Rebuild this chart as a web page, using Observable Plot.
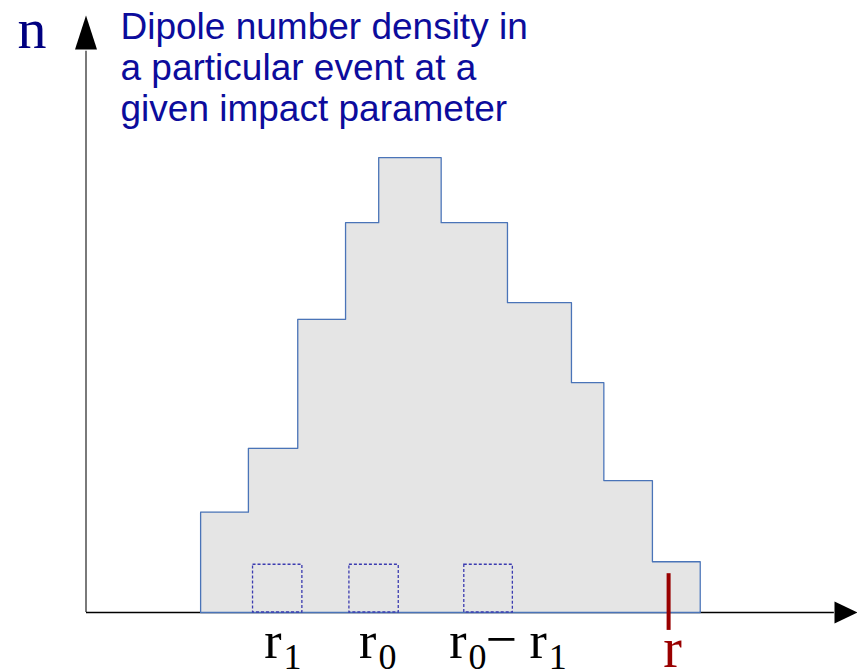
<!DOCTYPE html>
<html>
<head>
<meta charset="utf-8">
<script src="https://cdn.jsdelivr.net/npm/d3@7"></script>
<script src="https://cdn.jsdelivr.net/npm/@observablehq/plot@0.6"></script>
<style>
  html, body { margin: 0; padding: 0; background: #fff; }
  #chart svg { display: block; }
</style>
</head>
<body>
<div id="chart"></div>
<script>
// Histogram of dipole number density versus dipole size r (arbitrary units)
const binEdges = [14.8, 21.0, 27.4, 33.6, 37.9, 46.0, 54.6, 62.9, 67.1, 73.4, 79.6];
const binCounts = [16.8, 27.5, 49.1, 65.3, 76.2, 65.3, 51.9, 38.5, 22.1, 8.5];

// Dashed sampling cells at r1, r0 and r0 - r1
const cellLeft = [21.6, 34.1, 49.0];
const cellRight = [28.0, 40.5, 55.3];
const cellHeight = 8.0;

// Labels under the r axis: base letter and subscript, split point in r units
const labelBase = ["r", "r", "r", "r"];
const labelSub = ["1", "0", "0", "1"];
const labelAt = [25.3, 37.6, 49.3, 59.7];
const minusAt = 53.8;

// Marked dipole size r on the axis
const rMarkAt = 75.5;
const rMarkLow = -3.0;
const rMarkHigh = 6.5;

// Axis extents
const rMax = 100;
const nMax = 100;

const titleText = "Dipole number density in\na particular event at a\ngiven impact parameter";

// Outline of the step histogram (closed along the baseline)
const outline = [{x: binEdges[0], y: 0}];
binCounts.forEach((c, i) => outline.push({x: binEdges[i], y: c}));
outline.push({x: binEdges[binEdges.length - 1], y: 0});
outline.push({x: binEdges[0], y: 0});

const fillPts = [];
binCounts.forEach((c, i) => fillPts.push({x: binEdges[i], y: c}));
fillPts.push({x: binEdges[binEdges.length - 1], y: binCounts[binCounts.length - 1]});

const cells = cellLeft.map((l, i) => ({x1: l, x2: cellRight[i]}));
const labels = labelAt.map((x, i) => ({x, base: labelBase[i], sub: labelSub[i]}));

// Solid arrowheads for the axes
const arrowUp = {draw(ctx) { ctx.moveTo(0, 0); ctx.lineTo(11, 34); ctx.lineTo(-11, 34); ctx.closePath(); }};
const arrowRight = {draw(ctx) { ctx.moveTo(0, 0); ctx.lineTo(-23, -11); ctx.lineTo(-23, 11); ctx.closePath(); }};

const serif = "Liberation Serif, Times New Roman, serif";

const chart = Plot.plot({
  width: 857,
  height: 671,
  marginLeft: 86,
  marginRight: 0,
  marginTop: 15,
  marginBottom: 59,
  x: {domain: [0, rMax], axis: null},
  y: {domain: [0, nMax], axis: null},
  marks: [
    // axes
    Plot.ruleX([0], {y1: 0, y2: nMax - 6, stroke: "#7a7a7a", strokeWidth: 2, dx: -0.5}),
    Plot.ruleY([0], {x1: 0, x2: rMax - 3, stroke: "#000", strokeWidth: 1.5}),
    Plot.dot([{x: 0, y: nMax}], {x: "x", y: "y", symbol: arrowUp, fill: "#000", stroke: "none", dx: -0.5}),
    Plot.dot([{x: rMax, y: 0}], {x: "x", y: "y", symbol: arrowRight, fill: "#000", stroke: "none"}),
    // histogram
    Plot.areaY(fillPts, {x: "x", y: "y", curve: "step-after", fill: "#e5e5e5"}),
    Plot.line(outline, {x: "x", y: "y", curve: "step-after", stroke: "#4a74b8", strokeWidth: 1.3}),
    // sampling cells
    Plot.rect(cells, {x1: "x1", x2: "x2", y1: 0, y2: cellHeight, fill: "none", stroke: "#3b3bb0", strokeWidth: 1.3, strokeDasharray: "3,2"}),
    // marked r
    Plot.ruleX([rMarkAt], {y1: rMarkLow, y2: rMarkHigh, stroke: "#990000", strokeWidth: 4}),
    Plot.text(["r"], {x: rMarkAt, y: 0, dx: 4, dy: 54, text: d => d, textAnchor: "middle", lineAnchor: "bottom", fontFamily: serif, fontSize: 56, fill: "#990000"}),
    // r labels with subscripts
    Plot.text(labels, {x: "x", y: 0, dy: 45, text: "base", textAnchor: "end", lineAnchor: "bottom", fontFamily: serif, fontSize: 52, fill: "#000"}),
    Plot.text(labels, {x: "x", y: 0, dx: 2, dy: 56, text: "sub", textAnchor: "start", lineAnchor: "bottom", fontFamily: serif, fontSize: 36, fill: "#000"}),
    Plot.text(["\u2212"], {x: minusAt, y: 0, dy: 45, text: d => d, textAnchor: "middle", lineAnchor: "bottom", fontFamily: serif, fontSize: 56, fill: "#000"}),
    // axis name and description
    Plot.text(["n"], {frameAnchor: "top-left", dx: -69, dy: 32, text: d => d, textAnchor: "start", lineAnchor: "bottom", fontFamily: serif, fontSize: 58, fill: "#000080"}),
    Plot.text([titleText], {frameAnchor: "top-left", dx: 34, dy: -6.3, text: d => d, textAnchor: "start", lineAnchor: "top", lineHeight: 1.12, fontFamily: "Liberation Sans, Arial, sans-serif", fontSize: 37, fill: "#0c0c9c"})
  ]
});
document.getElementById("chart").append(chart);
</script>
</body>
</html>
